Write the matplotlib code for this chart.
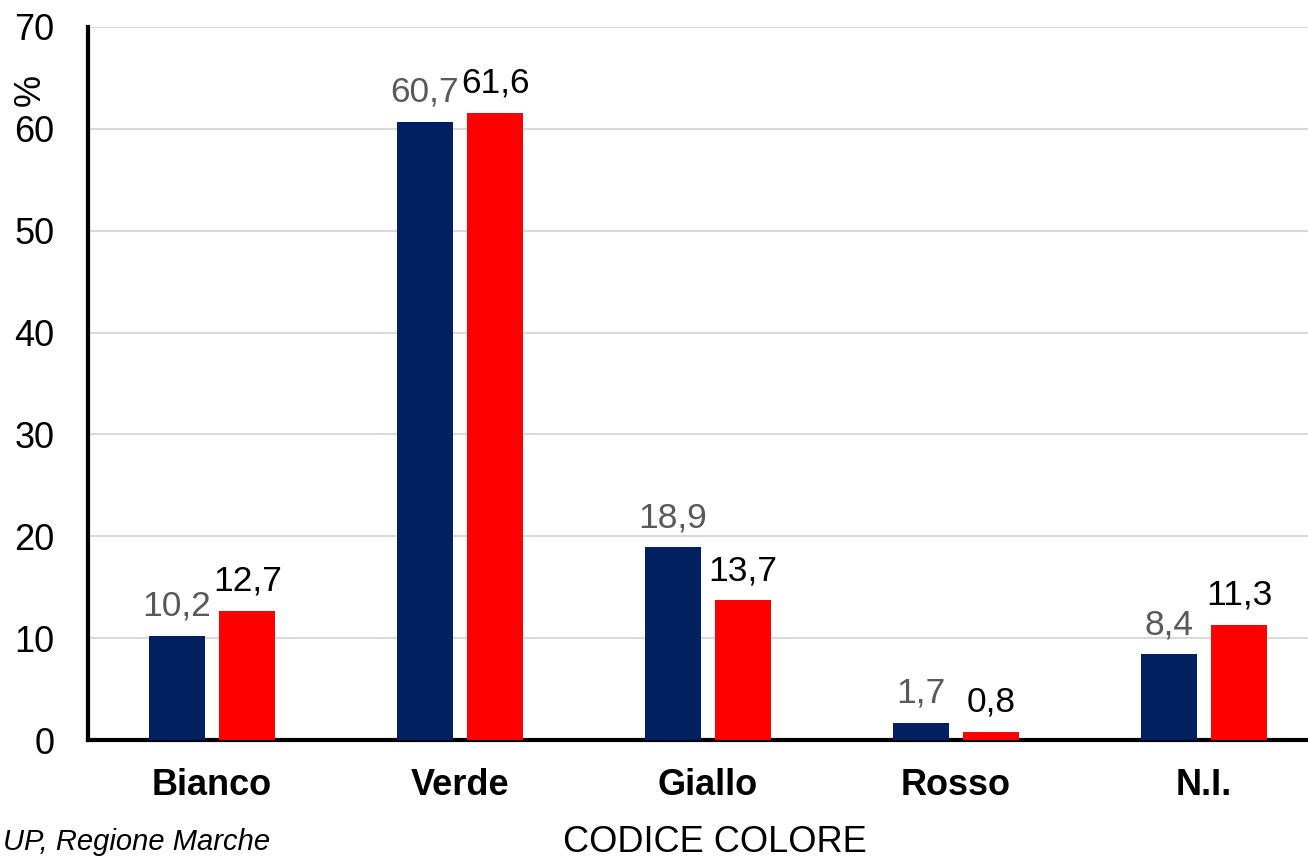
import numpy as np
import matplotlib.pyplot as plt

plt.rcParams['font.family'] = ['Liberation Sans', 'DejaVu Sans']

categories = ["Bianco", "Verde", "Giallo", "Rosso", "N.I."]
serie_a = [10.2, 60.7, 18.9, 1.7, 8.4]
serie_b = [12.7, 61.6, 13.7, 0.8, 11.3]
yticks = [0, 10, 20, 30, 40, 50, 60, 70]

BLUE = "#002060"
RED = "#FF0000"

W, H = 1308, 858
fig = plt.figure(figsize=(W / 100, H / 100), dpi=100)
ax = fig.add_axes([88 / W, 1 - 740 / H, (W - 88) / W, (740 - 27) / H])

x = np.arange(len(categories))
bw = 0.226
off = 0.142
ax.bar(x - off, serie_a, bw, color=BLUE, zorder=3)
ax.bar(x + off, serie_b, bw, color=RED, zorder=3)

def fmt(v):
    return f"{v:.1f}".replace(".", ",")

for xi, v in zip(x - off, serie_a):
    ax.text(xi, v + 1.3, fmt(v), ha="center", va="bottom", fontsize=25.5, color="#595959")
for xi, v in zip(x + off, serie_b):
    ax.text(xi, v + 1.3, fmt(v), ha="center", va="bottom", fontsize=25.5, color="black")

ax.set_xlim(-0.5, 4.42)
ax.set_ylim(0, 70)
ax.set_yticks(yticks)
ax.set_yticklabels([str(t) for t in yticks], fontsize=26)
ax.set_xticks(x)
ax.set_xticklabels(categories, fontsize=26, fontweight="bold")
ax.tick_params(length=0)
ax.tick_params(axis="y", pad=24)
ax.tick_params(axis="x", pad=20)

ax.yaxis.grid(True, color="#d9d9d9", linewidth=1.5, zorder=0)
ax.set_axisbelow(True)
for s in ["top", "right"]:
    ax.spines[s].set_visible(False)
ax.spines["left"].set_linewidth(3)
ax.spines["bottom"].set_linewidth(3)

fig.text(30 / W, 1 - 90 / H, "%", rotation=90, fontsize=26, ha="center", va="center")
fig.text(715 / W, 1 - 843 / H, "CODICE COLORE", fontsize=26, ha="center", va="center")
fig.text(0.002, 1 - 850 / H, "UP, Regione Marche", fontsize=21, style="italic",
         ha="left", va="baseline")

fig.savefig("out.png", dpi=100)
